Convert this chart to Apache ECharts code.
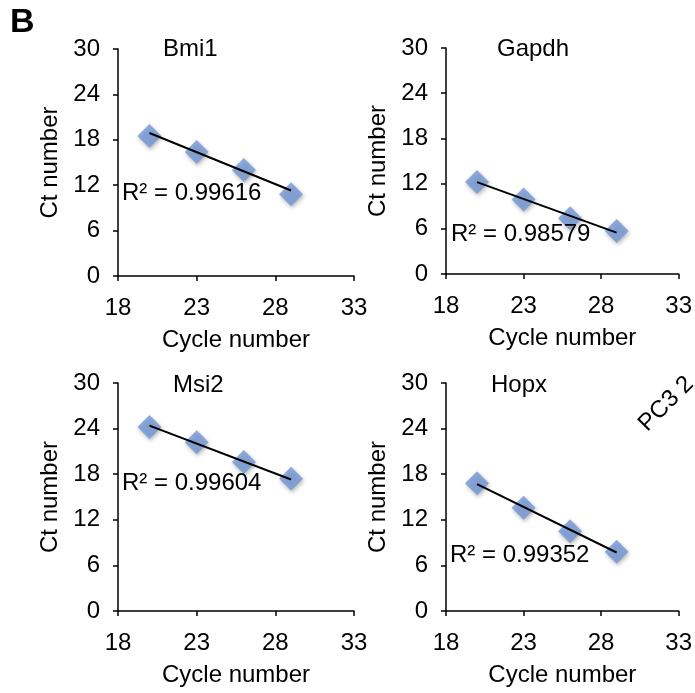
<!DOCTYPE html>
<html>
<head>
<meta charset="utf-8">
<script src="https://cdn.jsdelivr.net/npm/echarts@6/dist/echarts.min.js"></script>
<style>
  html, body { margin: 0; padding: 0; background: #fff; }
  #chart { width: 695px; height: 693px; }
</style>
</head>
<body>
<div id="chart"></div>
<script>
// qPCR standard curves, one panel per gene
var cycles = [20, 23, 26, 29];
var genes = ['Bmi1', 'Gapdh', 'Msi2', 'Hopx'];
var bmi1 = [18.5, 16.4, 14.0, 10.8];
var gapdh = [12.2, 9.9, 7.4, 5.7];
var msi2 = [24.2, 22.2, 19.6, 17.4];
var hopx = [16.8, 13.6, 10.5, 7.8];

// trend line ends, read at the first and last cycle
var trendX = [20, 29];
var bmi1Trend = [18.9, 11.3];
var gapdhTrend = [12.2, 5.5];
var msi2Trend = [24.4, 17.3];
var hopxTrend = [16.7, 7.7];

var rSquared = ['0.99616', '0.98579', '0.99604', '0.99352'];
var xTicks = [18, 23, 28, 33];

var FONT = '"Liberation Sans", Arial, sans-serif';
var FS = 24;

var values = [bmi1, gapdh, msi2, hopx];
var trends = [bmi1Trend, gapdhTrend, msi2Trend, hopxTrend];

// panel boxes (pixels)
var grids = [
  { left: 118, top: 49, width: 236, height: 227 },
  { left: 446, top: 48, width: 233, height: 226 },
  { left: 118, top: 383, width: 236, height: 228 },
  { left: 446, top: 383, width: 233, height: 228 }
];
var titlePos = [[163, 37], [497, 37], [173, 373], [491, 373]];
var rPos = [[122, 194], [451, 235], [122, 484], [450, 556]];

function zip(xs, ys) {
  return xs.map(function (x, i) { return [x, ys[i]]; });
}

var axisLine = { show: true, lineStyle: { color: '#000', width: 1.5 } };
var axisTick = { show: true, inside: false, length: 5, lineStyle: { color: '#000', width: 1.5 } };

var option = {
  backgroundColor: '#fff',
  animation: false,
  textStyle: { fontFamily: FONT },
  title: genes.map(function (g, i) {
    return {
      text: g, left: titlePos[i][0], top: titlePos[i][1], padding: 0,
      textStyle: { fontFamily: FONT, fontSize: FS, fontWeight: 'normal', color: '#000' }
    };
  }),
  grid: grids,
  xAxis: grids.map(function (g, i) {
    return {
      type: 'value', gridIndex: i, min: 18, max: 33,
      name: 'Cycle number', nameLocation: 'middle', nameGap: 52,
      nameTextStyle: { fontFamily: FONT, fontSize: FS, color: '#000' },
      axisLine: axisLine,
      axisTick: { show: true, inside: false, length: 5, customValues: xTicks, lineStyle: { color: '#000', width: 1.5 } },
      axisLabel: { customValues: xTicks, margin: 20, fontFamily: FONT, fontSize: FS, color: '#000' },
      splitLine: { show: false }
    };
  }),
  yAxis: grids.map(function (g, i) {
    return {
      type: 'value', gridIndex: i, min: 0, max: 30, interval: 6,
      name: 'Ct number', nameLocation: 'middle', nameGap: 56,
      nameTextStyle: { fontFamily: FONT, fontSize: FS, color: '#000' },
      axisLine: axisLine,
      axisTick: axisTick,
      axisLabel: { margin: 18, fontFamily: FONT, fontSize: FS, color: '#000' },
      splitLine: { show: false }
    };
  }),
  series: [],
  graphic: []
};

genes.forEach(function (g, i) {
  option.series.push({
    type: 'scatter', xAxisIndex: i, yAxisIndex: i,
    data: zip(cycles, values[i]),
    symbol: 'diamond', symbolSize: 24,
    itemStyle: {
      color: '#7397d6',
      shadowColor: 'rgba(0,0,0,0.35)', shadowBlur: 4, shadowOffsetX: 1, shadowOffsetY: 2
    },
    z: 2
  });
  option.series.push({
    type: 'line', xAxisIndex: i, yAxisIndex: i,
    data: zip(trendX, trends[i]),
    showSymbol: false, symbol: 'none',
    lineStyle: { color: '#000', width: 2 },
    z: 3
  });
  option.graphic.push({
    type: 'text', left: rPos[i][0], top: rPos[i][1] - 13, z: 10,
    style: { text: 'R² = ' + rSquared[i], font: FS + 'px ' + FONT, fill: '#000' }
  });
});

option.graphic.push({
  type: 'text', x: 10, y: 6, z: 10,
  style: { text: 'B', font: 'bold 34px ' + FONT, fill: '#000', verticalAlign: 'top' }
});
option.graphic.push({
  type: 'text', x: 651, y: 436, rotation: Math.PI / 4, z: 10,
  style: { text: 'PC3 2', font: FS + 'px ' + FONT, fill: '#000', align: 'left', verticalAlign: 'bottom' }
});

var chart = echarts.init(document.getElementById('chart'));
chart.setOption(option);
</script>
</body>
</html>
